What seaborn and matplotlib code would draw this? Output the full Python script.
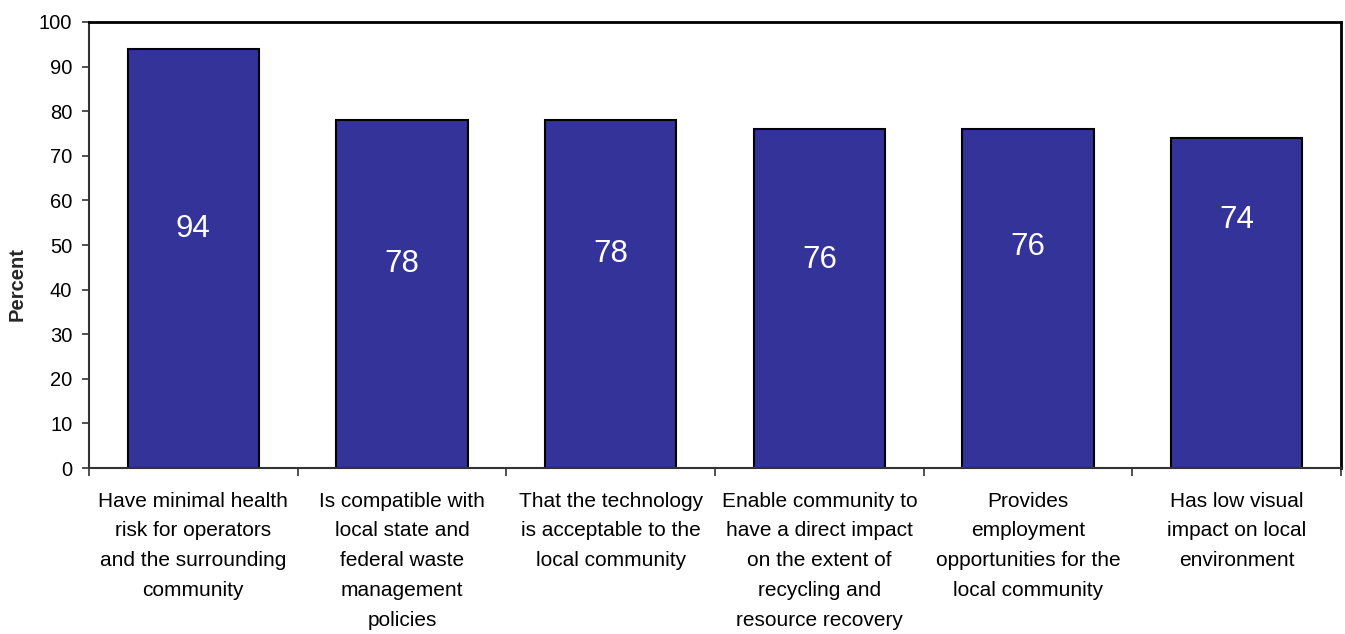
import matplotlib
matplotlib.use("Agg")
import matplotlib.pyplot as plt
import seaborn as sns
import pandas as pd

categories = [
    "Have minimal health\nrisk for operators\nand the surrounding\ncommunity",
    "Is compatible with\nlocal state and\nfederal waste\nmanagement\npolicies",
    "That the technology\nis acceptable to the\nlocal community",
    "Enable community to\nhave a direct impact\non the extent of\nrecycling and\nresource recovery",
    "Provides\nemployment\nopportunities for the\nlocal community",
    "Has low visual\nimpact on local\nenvironment",
]
values = [94, 78, 78, 76, 76, 74]
# heights (in percent units) where each value label sits inside its bar
label_heights = [53.6, 45.8, 48.0, 46.6, 49.6, 55.5]
y_ticks = list(range(0, 101, 10))

sns.set_theme(style="white")
plt.rcParams["font.family"] = ["Liberation Sans", "DejaVu Sans"]

df = pd.DataFrame({"category": categories, "percent": values})

fig = plt.figure(figsize=(13.45, 6.34), dpi=100)
ax = fig.add_axes([0.0662, 0.2618, 0.9308, 0.7035])

sns.barplot(data=df, x="category", y="percent", color="#333399",
            saturation=1, width=0.63, edgecolor="black", linewidth=1.5, ax=ax)

for i, (v, h) in enumerate(zip(values, label_heights)):
    ax.text(i, h, str(v), ha="center", va="center", color="white", fontsize=22.5)

ax.set_xlim(-0.5, len(categories) - 0.5)
ax.set_ylim(0, 100)
ax.set_yticks(y_ticks)
ax.set_xlabel("")
ax.set_ylabel("Percent", fontsize=14.5, fontweight="bold")
ax.yaxis.set_label_coords(-0.050, 0.413)

ax.tick_params(axis="y", which="major", left=True, length=5, width=1.2,
               color="#333333", labelsize=14.5, pad=7, labelcolor="black")
ax.tick_params(axis="x", which="major", bottom=False, labelsize=15,
               pad=11, labelcolor="black")
for lab in ax.get_xticklabels():
    lab.set_linespacing(1.72)

ax.set_xticks([i - 0.5 for i in range(len(categories) + 1)], minor=True)
ax.tick_params(axis="x", which="minor", bottom=True, length=6, width=1.2,
               color="#333333")

for side in ["top", "right"]:
    ax.spines[side].set_color("black")
    ax.spines[side].set_linewidth(2)
for side in ["left", "bottom"]:
    ax.spines[side].set_color("#333333")
    ax.spines[side].set_linewidth(1.5)

fig.savefig("out.png", dpi=100, facecolor="white")
